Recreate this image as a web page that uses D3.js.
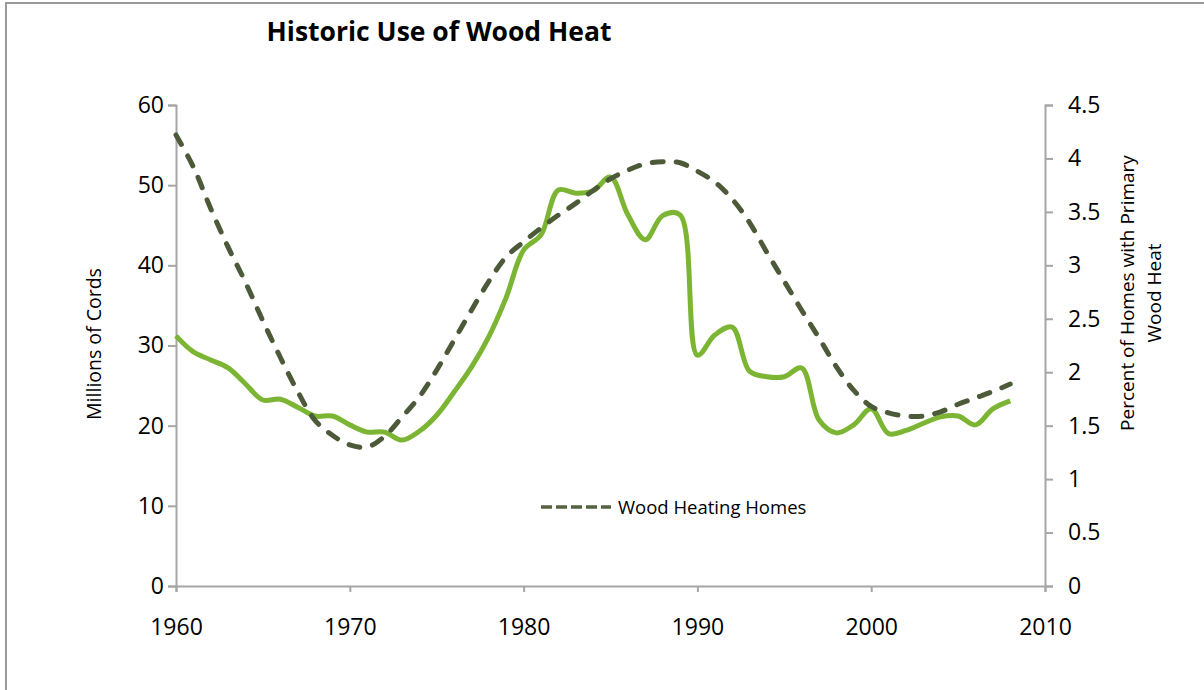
<!DOCTYPE html>
<html>
<head>
<meta charset="utf-8">
<script src="https://cdn.jsdelivr.net/npm/d3@7"></script>
<style>
  body { margin: 0; background: #fff; }
  svg text { font-family: "Open Sans", Lato, sans-serif; fill: #000; }
</style>
</head>
<body>
<div id="chart"></div>
<script>
// values
const years = d3.range(1960, 2009);
const cords = [31.2, 29.2, 28.2, 27.2, 25.2, 23.2, 23.3, 22.3, 21.2, 21.2,
               20.1, 19.2, 19.2, 18.2, 19.3, 21.3, 24.2, 27.3, 31.1, 36.0,
               41.9, 43.8, 49.4, 49.0, 49.3, 51.0, 46.3, 43.2, 46.2, 46.3,
               28.8, 31.3, 32.3, 26.8, 26.1, 26.1, 27.2, 20.7, 19.1, 20.1,
               22.1, 19.0, 19.4, 20.3, 21.1, 21.2, 20.1, 22.1, 23.1];
const homesPct = [4.22, 3.92, 3.53, 3.17, 2.84, 2.48, 2.14, 1.82, 1.55, 1.41,
                  1.32, 1.30, 1.40, 1.58, 1.77, 2.02, 2.30, 2.58, 2.85, 3.08,
                  3.22, 3.35, 3.47, 3.58, 3.70, 3.81, 3.89, 3.95, 3.97, 3.96,
                  3.88, 3.78, 3.62, 3.40, 3.12, 2.85, 2.58, 2.32, 2.05, 1.83,
                  1.68, 1.62, 1.59, 1.59, 1.63, 1.70, 1.76, 1.82, 1.89];
const xTicks = [1960, 1970, 1980, 1990, 2000, 2010];
const leftTicks = [0, 10, 20, 30, 40, 50, 60];
const rightTicks = [0, 0.5, 1, 1.5, 2, 2.5, 3, 3.5, 4, 4.5];

const W = 1204, H = 690;
const margin = { left: 176, right: 159, top: 105, bottom: 104 };
const axisColor = "#a6a6a6";

const svg = d3.select("#chart").append("svg")
    .attr("width", W)
    .attr("height", H);

// outer frame
svg.append("rect")
    .attr("x", 6).attr("y", 3)
    .attr("width", W + 10).attr("height", H + 10)
    .attr("fill", "none")
    .attr("stroke", "#9a9a9a")
    .attr("stroke-width", 2);

const x = d3.scaleLinear().domain([1960, 2010]).range([margin.left, W - margin.right]);
const yL = d3.scaleLinear().domain([0, 60]).range([H - margin.bottom, margin.top]);
const yR = d3.scaleLinear().domain([0, 4.5]).range([H - margin.bottom, margin.top]);

// title
svg.append("text")
    .attr("x", 439).attr("y", 41)
    .attr("text-anchor", "middle")
    .attr("font-size", "26.5px")
    .attr("font-weight", "bold")
    .text("Historic Use of Wood Heat");

// axes
function styleAxis(g) {
    g.selectAll("path, line").attr("stroke", axisColor).attr("stroke-width", 2);
    g.selectAll("text")
        .attr("font-size", "23px")
        .attr("font-family", "'Open Sans', sans-serif")
        .attr("fill", "#000");
}

svg.append("g")
    .attr("transform", `translate(${margin.left},0)`)
    .call(d3.axisLeft(yL).tickValues(leftTicks).tickFormat(d3.format("d")).tickSizeInner(8).tickSizeOuter(8).tickPadding(4))
    .call(styleAxis);

svg.append("g")
    .attr("transform", `translate(${W - margin.right},0)`)
    .call(d3.axisRight(yR).tickValues(rightTicks).tickFormat(d => d).tickSizeInner(8).tickSizeOuter(8).tickPadding(15))
    .call(styleAxis);

svg.append("g")
    .attr("transform", `translate(0,${H - margin.bottom})`)
    .call(d3.axisBottom(x).tickValues(xTicks).tickFormat(d3.format("d")).tickSizeInner(6).tickSizeOuter(6).tickPadding(27))
    .call(styleAxis);

// axis titles
svg.append("text")
    .attr("transform", "translate(101,344) rotate(-90)")
    .attr("text-anchor", "middle")
    .attr("font-size", "19.5px")
    .text("Millions of Cords");

const rTitle = svg.append("text")
    .attr("transform", "translate(1134,293) rotate(-90)")
    .attr("text-anchor", "middle")
    .attr("font-size", "19px");
rTitle.append("tspan").attr("x", 0).attr("dy", 0).text("Percent of Homes with Primary");
rTitle.append("tspan").attr("x", 0).attr("dy", 27).text("Wood Heat");

// lines
const cordsLine = d3.line()
    .x((d, i) => x(years[i]))
    .y(d => yL(d))
    .curve(d3.curveCatmullRom.alpha(0.5));

const homesLine = d3.line()
    .x((d, i) => x(years[i]))
    .y(d => yR(d))
    .curve(d3.curveCatmullRom.alpha(0.5));

svg.append("path")
    .datum(cords)
    .attr("d", cordsLine)
    .attr("fill", "none")
    .attr("stroke", "#7cb533")
    .attr("stroke-width", 5)
    .attr("stroke-linejoin", "round");

svg.append("path")
    .datum(homesPct)
    .attr("d", homesLine)
    .attr("fill", "none")
    .attr("stroke", "#4c5a3a")
    .attr("stroke-width", 5)
    .attr("stroke-linecap", "round")
    .attr("stroke-dasharray", "11,13");

// legend
const legend = svg.append("g").attr("transform", "translate(541,507)");
legend.append("line")
    .attr("x1", 0).attr("x2", 70)
    .attr("y1", 0).attr("y2", 0)
    .attr("stroke", "#56633f")
    .attr("stroke-width", 3.5)
    .attr("stroke-dasharray", "11,4");
legend.append("text")
    .attr("x", 77).attr("y", 7)
    .attr("font-size", "18.5px")
    .text("Wood Heating Homes");
</script>
</body>
</html>
